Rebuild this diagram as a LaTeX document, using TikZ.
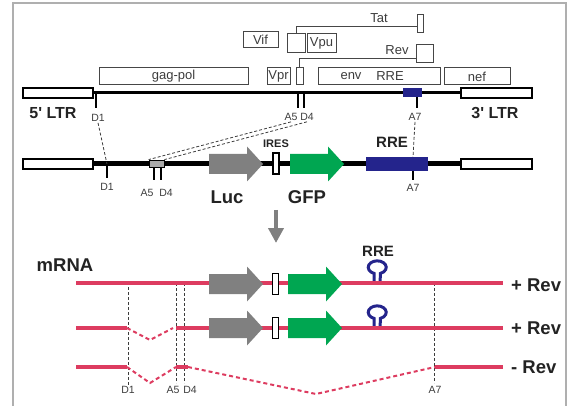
\documentclass[tikz,border=0pt]{standalone}
\usepackage{fontspec}
\setmainfont{Liberation Sans}
\usetikzlibrary{arrows.meta}

\definecolor{mrnared}{RGB}{221,60,96}
\definecolor{lucgray}{RGB}{128,128,128}
\definecolor{gfpgreen}{RGB}{0,166,81}
\definecolor{rreblue}{RGB}{36,36,140}
\definecolor{labelgray}{RGB}{60,60,60}
\definecolor{boxgray}{RGB}{70,70,70}
\definecolor{darktext}{RGB}{35,35,35}
\definecolor{framegray}{RGB}{175,175,175}
\definecolor{sitegray}{RGB}{170,170,170}

\tikzset{
  genebox/.style={draw=boxgray, line width=1, inner sep=0pt,
    font=\fontsize{13}{15}\selectfont, text=labelgray},
  ltr/.style={draw=black, fill=white, line width=1.3, inner sep=0pt,
    minimum width=70, minimum height=10},
  ires/.style={draw=black, fill=white, line width=1.1, inner sep=0pt,
    minimum width=6, minimum height=21},
  site/.style={font=\fontsize{10.5}{12}\selectfont, text=labelgray, inner sep=1pt},
  hdr/.style={font=\bfseries\fontsize{18.5}{21}\selectfont, text=darktext, inner sep=1pt},
  sitetick/.style={line width=1.4},
  link/.style={draw=boxgray, line width=0.8},
  splice/.style={draw=labelgray, line width=0.8, dash pattern=on 3pt off 2pt},
  guide/.style={draw=labelgray, line width=0.8, dash pattern=on 3pt off 2pt},
  mrna/.style={draw=mrnared, line width=4},
  splicegap/.style={draw=mrnared, line width=2, dash pattern=on 4pt off 3pt},
  block/.pic={\fill (0,-10) -- (38,-10) -- (38,-17.5) -- (54,0) -- (38,17.5) -- (38,10) -- (0,10) -- cycle;},
  stemloop/.pic={\draw[line width=3] (-3,0) -- (-3,-9.6)
    arc[start angle=111, end angle=429, x radius=9, y radius=6.5] -- (3,0);}
}

\begin{document}
\begin{tikzpicture}[x=1pt,y=-1pt]
  \useasboundingbox (0,0) rectangle (570,406);
  \draw[framegray, line width=1.2] (13,406) -- (13,3) -- (566,3) -- (566,406);

  % provirus
  \node[genebox, minimum width=149, minimum height=17] (gagpol) at (173.5,76.5) {gag-pol};
  \node[genebox, minimum width=23, minimum height=17] (vpr) at (278.5,76.5) {Vpr};
  \node[genebox, minimum width=7, minimum height=17] (revex1) at (299.5,76.5) {};
  \node[genebox, minimum width=122, minimum height=17] (env) at (379,76.5) {};
  \node[genebox, minimum width=66, minimum height=17] (nef) at (477,76.5) {nef};
  \node[genebox, minimum width=35, minimum height=16] (vif) at (260.5,40) {Vif};
  \node[genebox, minimum width=18, minimum height=19] (tatex1) at (296,43.5) {};
  \node[genebox, minimum width=29, minimum height=19] (vpu) at (321.5,43.5) {Vpu};
  \node[genebox, minimum width=17, minimum height=18] (revex2) at (424.5,54) {};
  \node[genebox, minimum width=6, minimum height=18] (tatex2) at (420,24) {};
  \node[site, font=\fontsize{13}{15}\selectfont] (envlbl) at (351,76.5) {env};
  \node[site, font=\fontsize{13}{15}\selectfont] (rrelbl) at (390,76.5) {RRE};
  \node[site, font=\fontsize{13}{15}\selectfont] (tatlbl) at (379,18) {Tat};
  \node[site, font=\fontsize{13}{15}\selectfont] (revlbl) at (397,50) {Rev};
  \draw[link] (tatex1.north) |- ([yshift=-2pt]tatex2.west);
  \draw[link] (revex1.north) |- ([yshift=-4pt]revex2.west);

  \node[ltr] (ltr5) at (58,93) {};
  \node[ltr, minimum width=71] (ltr3) at (496.5,93) {};
  \draw[line width=3] (ltr5.east) -- (ltr3.west);
  \fill[rreblue] (403,88) rectangle (422,97.5);
  \node[hdr, font=\bfseries\fontsize{16}{18}\selectfont] (ltr5lbl) at (53,113) {5\textquotesingle{} LTR};
  \node[hdr, font=\bfseries\fontsize{16}{18}\selectfont] (ltr3lbl) at (495,113) {3\textquotesingle{} LTR};

  \draw[sitetick] (96,93) -- (96,108);
  \draw[sitetick] (298,93) -- (298,108);
  \draw[sitetick] (304,93) -- (304,108);
  \draw[sitetick] (417,97) -- (417,108);
  \node[site] (d1top) at (98,118) {D1};
  \node[site] (a5top) at (291,117) {A5};
  \node[site] (d4top) at (307,117) {D4};
  \node[site] (a7top) at (415,117) {A7};

  % vector
  \node[ltr] (ltr5v) at (58,164) {};
  \node[ltr, minimum width=71] (ltr3v) at (496.5,164) {};
  \draw[line width=5] (ltr5v.east) -- (ltr3v.west);
  \coordinate (d1v) at (107,164);
  \coordinate (a5v) at (154,164);
  \coordinate (d4v) at (161,164);
  \coordinate (a7v) at (413,164);
  \draw[sitetick] (d1v) -- ++(0,14);
  \draw[sitetick] (a5v) -- ++(0,16);
  \draw[sitetick] (d4v) -- ++(0,16);
  \node[draw, fill=sitegray, line width=0.8, inner sep=0pt,
    minimum width=15, minimum height=7] (a5d4) at (156.5,163.5) {};
  \pic[lucgray] at (209,164) {block};
  \node[ires] (iresv) at (276,163.5) {};
  \pic[gfpgreen] at (290,164) {block};
  \node[fill=rreblue, inner sep=0pt, minimum width=62, minimum height=14] (rrev) at (397,164) {};
  \draw[sitetick] (a7v |- rrev.south) -- ++(0,9);

  \node[site] (d1mid) at (107,187) {D1};
  \node[site] (a5mid) at (147,193) {A5};
  \node[site] (d4mid) at (166,193) {D4};
  \node[site] (a7mid) at (413,188) {A7};
  \node[hdr, font=\bfseries\fontsize{11}{13}\selectfont] (ireslbl) at (276,144) {IRES};
  \node[hdr, font=\bfseries\fontsize{15}{17}\selectfont] (rrevlbl) at (392,142) {RRE};
  \node[hdr] (luclbl) at (227,197) {Luc};
  \node[hdr] (gfplbl) at (307,197) {GFP};

  \draw[splice] (d1top.south) -- (d1v);
  \draw[splice] (a5top.south) -- (a5d4.north west);
  \draw[splice] (d4top.south) -- (a5d4.north east);
  \draw[splice] (a7top.south) -- (a7v |- rrev.north);

  \coordinate (arrtop) at (276,210);
  \coordinate (arrbot) at (276,243);
  \draw[lucgray, line width=4, -{Triangle[width=15pt,length=15pt]}] (arrtop) -- (arrbot);

  % mRNA
  \node[hdr] (mrnalbl) at (65,265) {mRNA};
  \node[hdr, font=\bfseries\fontsize{15}{17}\selectfont] (rrelow) at (378,251) {RRE};
  \node[site] (d1low) at (128,390) {D1};
  \node[site] (a5low) at (173,390) {A5};
  \node[site] (d4low) at (190,390) {D4};
  \node[site] (a7low) at (435,390) {A7};
  \draw[guide] (128,287) -- (d1low.north);
  \draw[guide] (176,283) -- (176,383);
  \draw[guide] (184,283) -- (184,383);
  \draw[guide] (434,283) -- (434,383);

  \pic[rreblue] at (377,283) {stemloop};
  \pic[rreblue] at (377,328) {stemloop};
  \draw[mrna] (76,283) -- (503,283);
  \draw[mrna] (76,328) -- (127,328);
  \draw[splicegap] (127,328) -- (150,340) -- (173,328);
  \draw[mrna] (176,328) -- (503,328);
  \draw[mrna] (76,367) -- (127,367);
  \draw[splicegap] (127,367) -- (150,383) -- (176,367);
  \draw[mrna] (176,367) -- (188,367);
  \draw[splicegap] (188,367) -- (316,394) -- (435,367);
  \draw[mrna] (435,367) -- (503,367);

  \pic[lucgray] at (209,284) {block};
  \node[ires] (ires1) at (275.5,284) {};
  \pic[gfpgreen] at (288,284) {block};
  \pic[lucgray] at (209,328) {block};
  \node[ires] (ires2) at (275.5,328) {};
  \pic[gfpgreen] at (288,328) {block};

  \node[hdr, anchor=west] (rev1) at (510,285) {+ Rev};
  \node[hdr, anchor=west] (rev2) at (510,328) {+ Rev};
  \node[hdr, anchor=west] (rev3) at (510,367) {- Rev};
\end{tikzpicture}
\end{document}
